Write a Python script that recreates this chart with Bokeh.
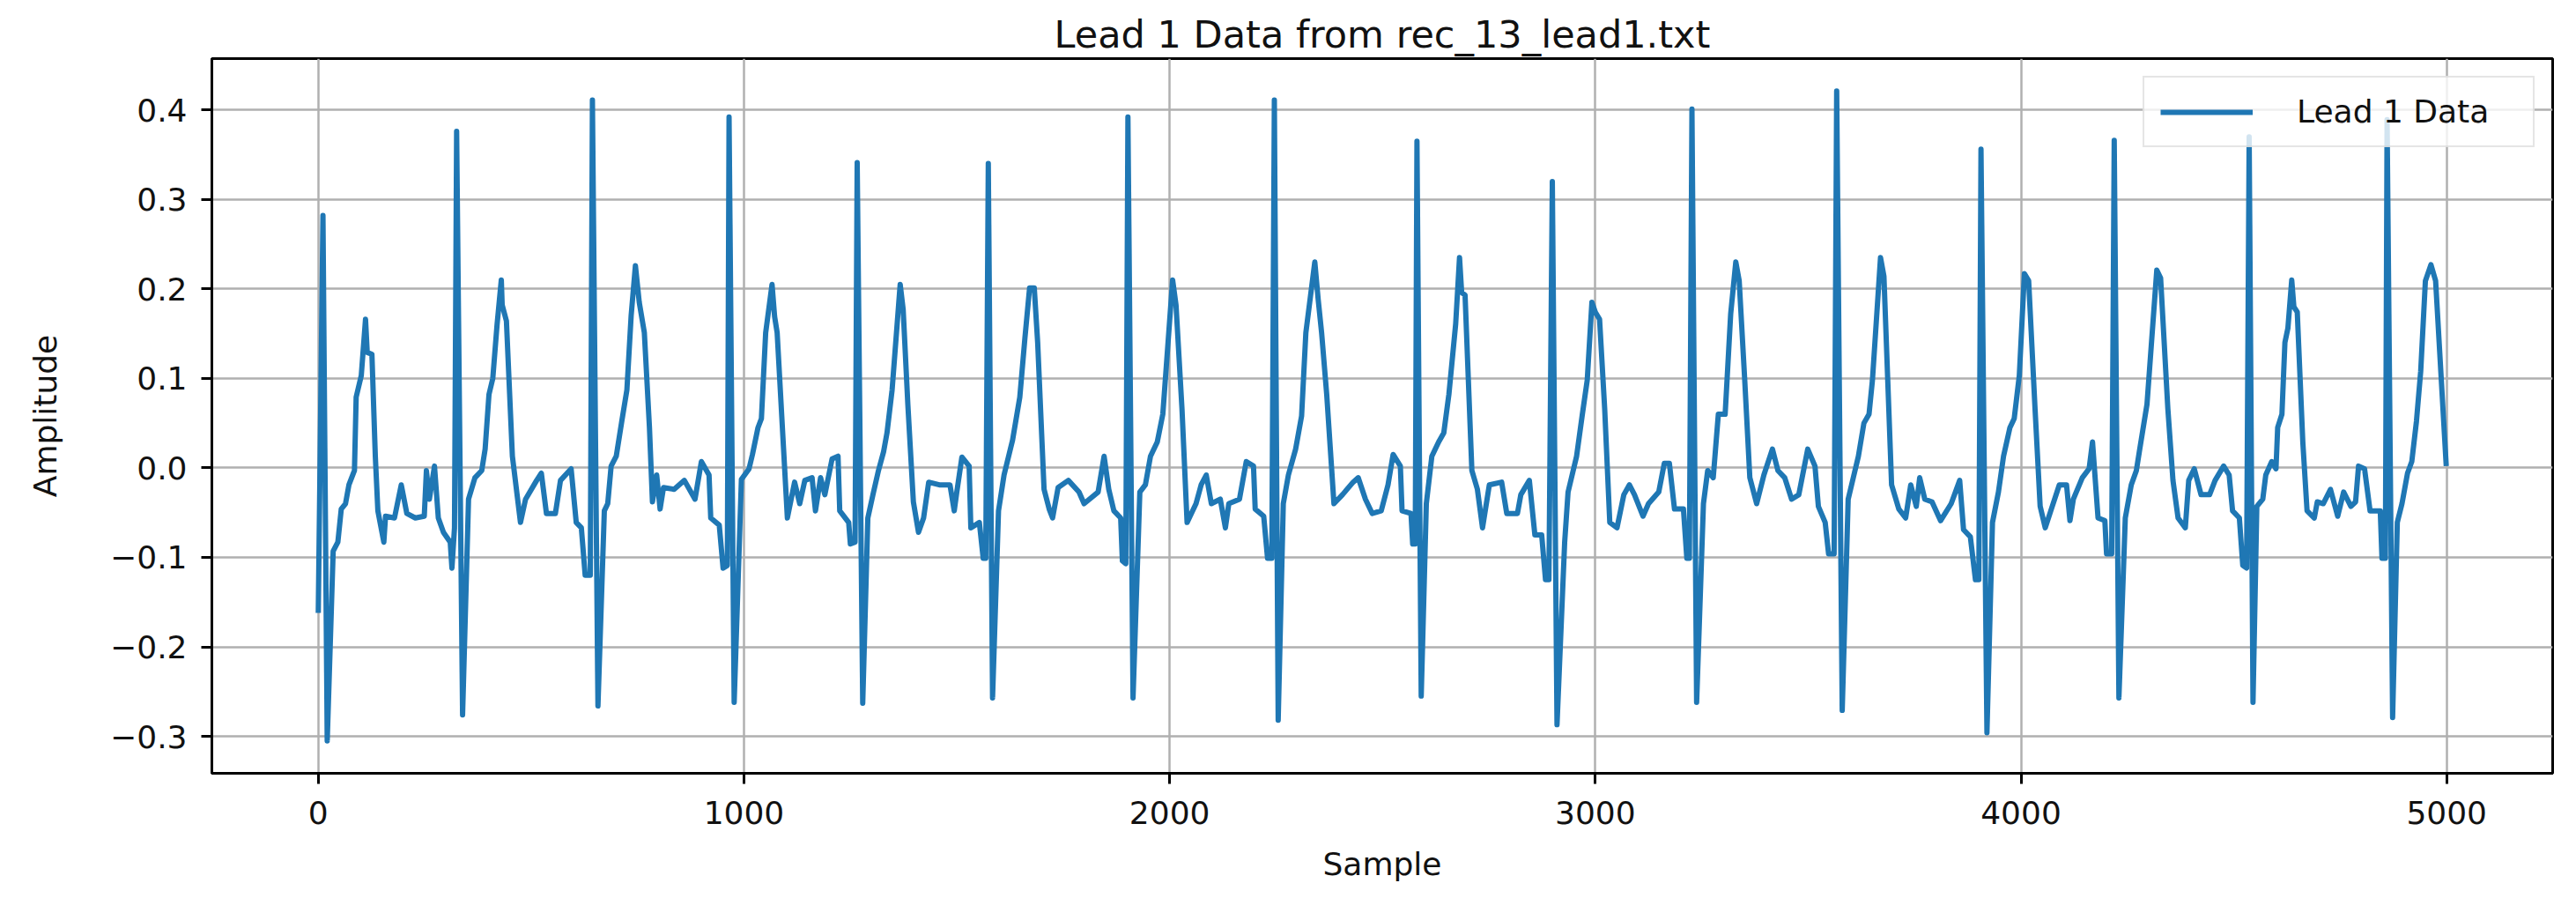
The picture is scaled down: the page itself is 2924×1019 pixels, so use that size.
from bokeh.plotting import figure
from bokeh.models import Range1d, FixedTicker, CustomJSTickFormatter, ColumnDataSource
from bokeh.embed import file_html
from bokeh.resources import INLINE

title_text = "Lead 1 Data from rec_13_lead1.txt"
x_label = "Sample"
y_label = "Amplitude"
series_name = "Lead 1 Data"
x_ticks = [0, 1000, 2000, 3000, 4000, 5000]
y_ticks = [-0.3, -0.2, -0.1, 0.0, 0.1, 0.2, 0.3, 0.4]

# sample index of each traced vertex (one row per beat)
sample = [
    0, 11, 21, 35, 46, 54, 64, 72, 85, 89, 101, 111, 115, 126, 134, 140, 154, 158, 179, 195, 208, 228, 249, 254, 261, 273, 282, 294, 310, 314, 320,
    325, 339, 353, 368, 384, 392, 401, 410, 420, 430, 432, 442, 456, 475, 487, 513, 524, 536, 557, 569, 594, 606, 618, 627, 639,
    644, 657, 672, 680, 688, 700, 713, 725, 735, 745, 754, 766, 778, 785, 795, 803, 811, 836, 860, 885, 900, 918, 922, 942, 951, 961,
    965, 977, 994, 1012, 1020, 1033, 1041, 1051, 1066, 1072, 1078, 1102, 1119, 1131, 1143, 1160, 1168, 1180, 1190, 1207, 1221, 1225, 1246, 1250, 1261,
    1266, 1279, 1291, 1303, 1316, 1328, 1336, 1348, 1367, 1374, 1385, 1398, 1410, 1422, 1434, 1459, 1484, 1494, 1500, 1512, 1529, 1533, 1553, 1562, 1568,
    1574, 1584, 1598, 1611, 1631, 1648, 1660, 1671, 1682, 1690, 1705, 1717, 1725, 1738, 1762, 1787, 1799, 1832, 1846, 1857, 1869, 1885, 1889, 1897,
    1902, 1914, 1930, 1943, 1955, 1971, 1984, 2007, 2015, 2029, 2041, 2062, 2074, 2086, 2098, 2119, 2131, 2139, 2164, 2180, 2197, 2201, 2221, 2230, 2240,
    2246, 2255, 2267, 2279, 2296, 2310, 2320, 2341, 2349, 2357, 2369, 2386, 2406, 2431, 2443, 2460, 2476, 2497, 2513, 2525, 2542, 2546, 2567, 2571, 2577,
    2581, 2591, 2603, 2616, 2632, 2644, 2656, 2672, 2681, 2686, 2694, 2710, 2723, 2735, 2751, 2780, 2792, 2817, 2825, 2845, 2858, 2874, 2883, 2891,
    2899, 2910, 2928, 2936, 2956, 2969, 2981, 2992, 3000, 3010, 3022, 3034, 3051, 3067, 3080, 3092, 3112, 3125, 3149, 3162, 3174, 3186, 3207, 3215, 3221,
    3227, 3238, 3254, 3264, 3277, 3289, 3305, 3318, 3330, 3338, 3351, 3363, 3379, 3396, 3416, 3429, 3445, 3461, 3478, 3499, 3516, 3524, 3540, 3548, 3561,
    3567, 3580, 3594, 3606, 3618, 3631, 3643, 3651, 3670, 3678, 3696, 3713, 3729, 3741, 3754, 3762, 3774, 3791, 3811, 3836, 3856, 3865, 3881, 3893, 3901,
    3906, 3920, 3933, 3947, 3959, 3974, 3984, 3996, 4008, 4018, 4033, 4045, 4057, 4070, 4090, 4107, 4115, 4123, 4144, 4160, 4168, 4181, 4197, 4201, 4213,
    4219, 4230, 4245, 4259, 4271, 4279, 4296, 4319, 4328, 4345, 4357, 4369, 4386, 4394, 4407, 4423, 4443, 4456, 4476, 4489, 4497, 4513, 4521, 4530,
    4536, 4545, 4554, 4568, 4575, 4589, 4599, 4603, 4613, 4620, 4627, 4636, 4641, 4649, 4662, 4672, 4689, 4696, 4710, 4727, 4744, 4758, 4775, 4786, 4793, 4807, 4820, 4844, 4848, 4856,
    4860, 4873, 4884, 4895, 4908, 4918, 4929, 4939, 4950, 4963, 4974, 4999,
]

# amplitude at each traced vertex (same rows as above)
amplitude = [
    -0.162, 0.282, -0.305, -0.093, -0.083, -0.046, -0.040, -0.019, -0.003, 0.079, 0.103, 0.166, 0.129, 0.127, 0.013, -0.048, -0.083, -0.054, -0.056, -0.019, -0.051, -0.056, -0.054, -0.003, -0.035, 0.002, -0.056, -0.072, -0.083, -0.112, -0.067,
    0.376, -0.276, -0.035, -0.011, -0.003, 0.021, 0.082, 0.100, 0.160, 0.210, 0.182, 0.164, 0.013, -0.061, -0.035, -0.014, -0.006, -0.051, -0.051, -0.014, -0.001, -0.061, -0.067, -0.120, -0.120,
    0.411, -0.266, -0.048, -0.040, 0.002, 0.013, 0.052, 0.087, 0.170, 0.226, 0.185, 0.151, 0.045, -0.038, -0.008, -0.046, -0.022, -0.024, -0.014, -0.035, 0.007, -0.008, -0.056, -0.064, -0.112, -0.109,
    0.392, -0.262, -0.013, -0.001, 0.015, 0.045, 0.055, 0.151, 0.205, 0.169, 0.151, -0.056, -0.016, -0.040, -0.014, -0.011, -0.048, -0.011, -0.030, 0.010, 0.013, -0.048, -0.061, -0.085, -0.083,
    0.341, -0.263, -0.056, -0.030, -0.003, 0.018, 0.039, 0.087, 0.205, 0.177, 0.071, -0.038, -0.072, -0.056, -0.016, -0.019, -0.019, -0.048, -0.027, 0.012, 0.002, -0.067, -0.061, -0.101, -0.101,
    0.340, -0.257, -0.048, -0.008, 0.031, 0.079, 0.145, 0.201, 0.201, 0.140, -0.024, -0.046, -0.056, -0.022, -0.014, -0.027, -0.040, -0.027, 0.013, -0.024, -0.048, -0.056, -0.104, -0.107,
    0.392, -0.257, -0.027, -0.019, 0.013, 0.029, 0.060, 0.210, 0.182, 0.066, -0.061, -0.040, -0.019, -0.008, -0.040, -0.035, -0.067, -0.040, -0.035, 0.007, 0.002, -0.046, -0.054, -0.101, -0.101,
    0.411, -0.282, -0.040, -0.008, 0.021, 0.058, 0.151, 0.230, 0.188, 0.151, 0.082, -0.040, -0.030, -0.016, -0.011, -0.035, -0.051, -0.048, -0.019, 0.015, 0.002, -0.048, -0.051, -0.085, -0.085,
    0.365, -0.255, -0.040, 0.013, 0.029, 0.039, 0.082, 0.161, 0.235, 0.196, 0.193, -0.003, -0.024, -0.067, -0.019, -0.016, -0.051, -0.051, -0.030, -0.014, -0.075, -0.075, -0.125, -0.125,
    0.320, -0.287, -0.083, -0.027, 0.013, 0.058, 0.098, 0.185, 0.174, 0.166, 0.066, -0.061, -0.067, -0.030, -0.019, -0.030, -0.054, -0.040, -0.027, 0.005, 0.005, -0.046, -0.046, -0.101, -0.101,
    0.401, -0.262, -0.040, -0.003, -0.011, 0.060, 0.060, 0.172, 0.230, 0.209, 0.098, -0.011, -0.040, -0.008, 0.021, -0.003, -0.011, -0.035, -0.030, 0.021, 0.002, -0.043, -0.061, -0.096, -0.096,
    0.421, -0.271, -0.035, -0.011, 0.013, 0.050, 0.060, 0.098, 0.235, 0.214, -0.019, -0.046, -0.056, -0.019, -0.043, -0.011, -0.035, -0.038, -0.059, -0.040, -0.014, -0.069, -0.077, -0.125, -0.125,
    0.356, -0.296, -0.061, -0.027, 0.013, 0.045, 0.055, 0.103, 0.217, 0.209, 0.066, -0.043, -0.067, -0.048, -0.019, -0.019, -0.059, -0.035, -0.011, -0.001, 0.029, -0.056, -0.059, -0.096, -0.096,
    0.366, -0.257, -0.056, -0.019, -0.003, 0.021, 0.071, 0.221, 0.212, 0.066, -0.014, -0.056, -0.067, -0.014, -0.001, -0.030, -0.030, -0.014, 0.002, -0.008, -0.048, -0.056, -0.109, -0.112,
    0.370, -0.262, -0.043, -0.035, -0.008, 0.007, -0.001, 0.045, 0.060, 0.140, 0.156, 0.210, 0.180, 0.174, 0.029, -0.048, -0.056, -0.038, -0.040, -0.024, -0.054, -0.027, -0.043, -0.038, 0.002, -0.001, -0.048, -0.048, -0.101, -0.101,
    0.389, -0.279, -0.061, -0.040, -0.006, 0.007, 0.052, 0.108, 0.209, 0.227, 0.209, 0.002,
]

n = min(len(sample), len(amplitude))
source = ColumnDataSource(data=dict(x=sample[:n], y=amplitude[:n]))

# matplotlib-like 5% margins around the data
xmin, xmax = min(sample), max(sample)
ymin, ymax = min(amplitude), max(amplitude)
xpad = 0.05 * (xmax - xmin)
ypad = 0.05 * (ymax - ymin)

FONT = "DejaVu Sans"

p = figure(
    width=2908, height=1003,
    title=title_text,
    output_backend="svg", toolbar_location=None,
    x_range=Range1d(xmin - xpad, xmax + xpad),
    y_range=Range1d(ymin - ypad, ymax + ypad),
    min_border_left=240, min_border_right=11, min_border_top=66, min_border_bottom=122,
)
p.background_fill_color = "white"
p.border_fill_color = "white"
p.outline_line_color = "black"
p.outline_line_width = 3
p.outline_line_alpha = 1.0

p.title.align = "center"
p.title.text_font = FONT
p.title.text_font_size = "43px"
p.title.text_font_style = "normal"
p.title.text_color = "#111111"
p.title.standoff = 6

p.line("x", "y", source=source, line_color="#1f77b4", line_width=6,
       line_join="round", legend_label=series_name)

p.xaxis.ticker = FixedTicker(ticks=x_ticks)
p.yaxis.ticker = FixedTicker(ticks=y_ticks)
p.yaxis.formatter = CustomJSTickFormatter(code="""
    const v = Math.round(tick * 10) / 10;
    return v < 0 ? "\\u2212" + (-v).toFixed(1) : v.toFixed(1);
""")

for ax in (p.xaxis, p.yaxis):
    ax.axis_line_color = "black"
    ax.axis_line_width = 3
    ax.major_tick_line_color = "black"
    ax.major_tick_line_width = 3
    ax.major_tick_out = 12
    ax.major_tick_in = 0
    ax.minor_tick_line_color = None
    ax.major_label_text_font = FONT
    ax.major_label_text_font_size = "36px"
    ax.major_label_text_color = "#111111"
    ax.axis_label_text_font = FONT
    ax.axis_label_text_font_size = "36px"
    ax.axis_label_text_font_style = "normal"
    ax.axis_label_text_color = "#111111"

p.xaxis.axis_label = x_label
p.yaxis.axis_label = y_label
p.xaxis.major_label_standoff = 19
p.yaxis.major_label_standoff = 16
p.xaxis.axis_label_standoff = 22
p.yaxis.axis_label_standoff = 50

p.grid.grid_line_color = "#b0b0b0"
p.grid.grid_line_width = 2.5
p.grid.grid_line_alpha = 1.0

lg = p.legend[0]
lg.location = "top_right"
lg.margin = 20
lg.padding = 18
lg.spacing = 0
lg.glyph_width = 105
lg.glyph_height = 30
lg.label_standoff = 50
lg.label_width = 250
lg.label_text_font = FONT
lg.label_text_font_size = "36px"
lg.label_text_color = "#111111"
lg.border_line_color = "#cccccc"
lg.border_line_width = 2
lg.background_fill_color = "white"
lg.background_fill_alpha = 0.8

open("out.html", "w").write(file_html(p, INLINE))
